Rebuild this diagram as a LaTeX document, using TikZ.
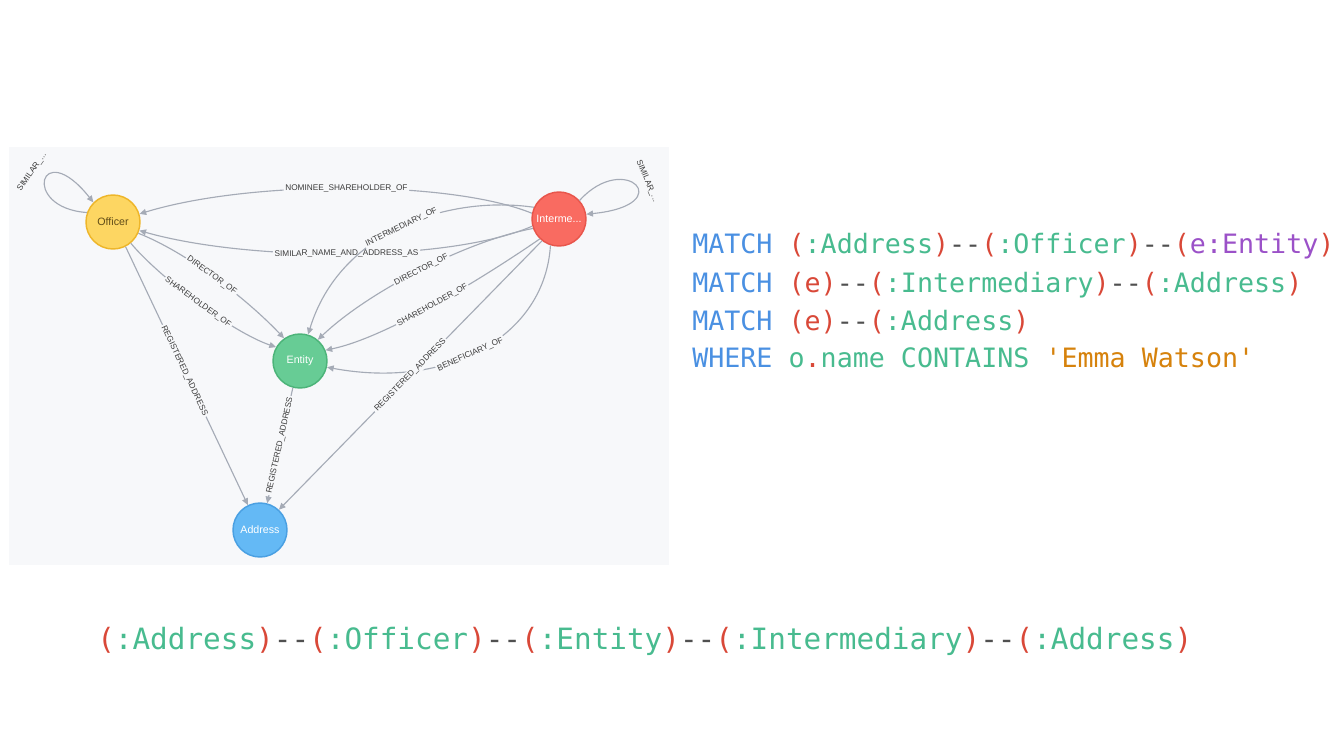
\documentclass[tikz,border=0pt]{standalone}
\usepackage{fontspec}
\setmainfont{Liberation Sans}
\newfontfamily\codefont{DejaVu Sans Mono}
\usetikzlibrary{arrows.meta}
\definecolor{panel}{RGB}{247,248,250}
\definecolor{edgegray}{RGB}{165,171,182}
\definecolor{lbltext}{RGB}{60,60,60}
\definecolor{offfill}{RGB}{253,214,98}
\definecolor{offline}{RGB}{238,182,42}
\definecolor{offtext}{RGB}{96,76,24}
\definecolor{intfill}{RGB}{249,107,97}
\definecolor{intline}{RGB}{232,86,76}
\definecolor{entfill}{RGB}{103,204,149}
\definecolor{entline}{RGB}{76,180,121}
\definecolor{adrfill}{RGB}{100,185,245}
\definecolor{adrline}{RGB}{74,160,226}
\definecolor{kwblue}{RGB}{74,144,226}
\definecolor{parred}{RGB}{217,72,56}
\definecolor{labgreen}{RGB}{72,187,143}
\definecolor{dashgray}{RGB}{80,80,80}
\definecolor{varpurple}{RGB}{155,81,200}
\definecolor{strorange}{RGB}{214,130,12}
\newcommand{\kw}[1]{\textcolor{kwblue}{#1}}
\newcommand{\pr}[1]{\textcolor{parred}{#1}}
\newcommand{\lb}[1]{\textcolor{labgreen}{#1}}
\newcommand{\dd}{\textcolor{dashgray}{-{}-}}
\begin{document}
\begin{tikzpicture}[x=0.75pt,y=-0.75pt,
  gnode/.style={circle, minimum size=40.5pt, inner sep=0pt, line width=1.1pt, font=\fontsize{8}{9}\selectfont},
  rel/.style={draw=edgegray, line width=0.85pt, -{Triangle[length=5pt,width=4.5pt]}},
  lbl/.style={font=\fontsize{6.2}{7}\selectfont, text=lbltext, fill=panel, inner sep=1.2pt, sloped},
  looplbl/.style={font=\fontsize{6.2}{7}\selectfont, text=lbltext, inner sep=0pt},
  code/.style={anchor=base west, inner sep=0pt, font=\codefont\fontsize{20}{24}\selectfont}]
\useasboundingbox (0,0) rectangle (1333,750);
\fill[white] (0,0) rectangle (1333,750);
\fill[panel] (9,147) rectangle (669,565);

% graph nodes
\node[gnode, fill=offfill, draw=offline, text=offtext] (off) at (113,222) {Officer};
\node[gnode, fill=intfill, draw=intline, text=white] (int) at (559,219) {Interme...};
\node[gnode, fill=entfill, draw=entline, text=white] (ent) at (300,361) {Entity};
\node[gnode, fill=adrfill, draw=adrline, text=white] (adr) at (260,530) {Address};

% self loops
\draw[rel] (off.160) .. controls (20,208) and (40,135) .. (off.135);
\node[looplbl, rotate=55] (offloop) at (32,172) {SIMILAR\_...};
\draw[rel] (int.42) .. controls (625,150) and (680,205) .. (int.10);
\node[looplbl, rotate=-67] (intloop) at (647,181) {SIMILAR\_...};

% Intermediary -> Officer
\draw[rel] (int.168) .. controls (450,180) and (250,180) .. node[lbl] {NOMINEE\_SHAREHOLDER\_OF} (off.17);
\draw[rel] (int.195) .. controls (450,262) and (250,262) .. node[lbl] {SIMILAR\_NAME\_AND\_ADDRESS\_AS} (off.342);

% Intermediary -> Entity
\draw[rel] (int.155) .. controls (450,195) and (340,230) .. node[lbl] {INTERMEDIARY\_OF} (ent.73);
\draw[rel] (int.200) .. controls (470,240) and (370,290) .. node[lbl] {DIRECTOR\_OF} (ent.50);
\draw[rel] (int.226) .. controls (480,280) and (385,338) .. node[lbl] {SHAREHOLDER\_OF} (ent.23);
\draw[rel] (int.252) .. controls (545,335) and (450,390) .. node[lbl, pos=0.55] {BENEFICIARY\_OF} (ent.347);

% Intermediary -> Address
\draw[rel] (int.232) -- node[lbl] {REGISTERED\_ADDRESS} (adr.47);

% Officer -> Entity
\draw[rel] (off.336) .. controls (186,252) and (246,298) .. node[lbl, pos=0.48] {DIRECTOR\_OF} (ent.125);
\draw[rel] (off.310) .. controls (160,278) and (232,332) .. node[lbl] {SHAREHOLDER\_OF} (ent.150);

% Officer -> Address
\draw[rel] (off.297) -- node[lbl, pos=0.48] {REGISTERED\_ADDRESS} (adr.116);

% Entity -> Address
\draw[rel] (ent.255) -- node[lbl] {REGISTERED\_ADDRESS} (adr.75);

% Cypher query
\node[code] (q1) at (692,253) {\kw{MATCH} \pr{(}\lb{:Address}\pr{)}\dd\pr{(}\lb{:Officer}\pr{)}\dd\pr{(}\textcolor{varpurple}{e:Entity}\pr{)}};
\node[code] (q2) at (692,292) {\kw{MATCH} \pr{(e)}\dd\pr{(}\lb{:Intermediary}\pr{)}\dd\pr{(}\lb{:Address}\pr{)}};
\node[code] (q3) at (692,330) {\kw{MATCH} \pr{(e)}\dd\pr{(}\lb{:Address}\pr{)}};
\node[code] (q4) at (692,367) {\kw{WHERE} \lb{o}\pr{.}\lb{name} \lb{CONTAINS} \textcolor{strorange}{'Emma Watson'}};

% path pattern
\node[code, font=\codefont\fontsize{22}{26}\selectfont] (pat) at (97,649) {\pr{(}\lb{:Address}\pr{)}\dd\pr{(}\lb{:Officer}\pr{)}\dd\pr{(}\lb{:Entity}\pr{)}\dd\pr{(}\lb{:Intermediary}\pr{)}\dd\pr{(}\lb{:Address}\pr{)}};
\end{tikzpicture}
\end{document}
